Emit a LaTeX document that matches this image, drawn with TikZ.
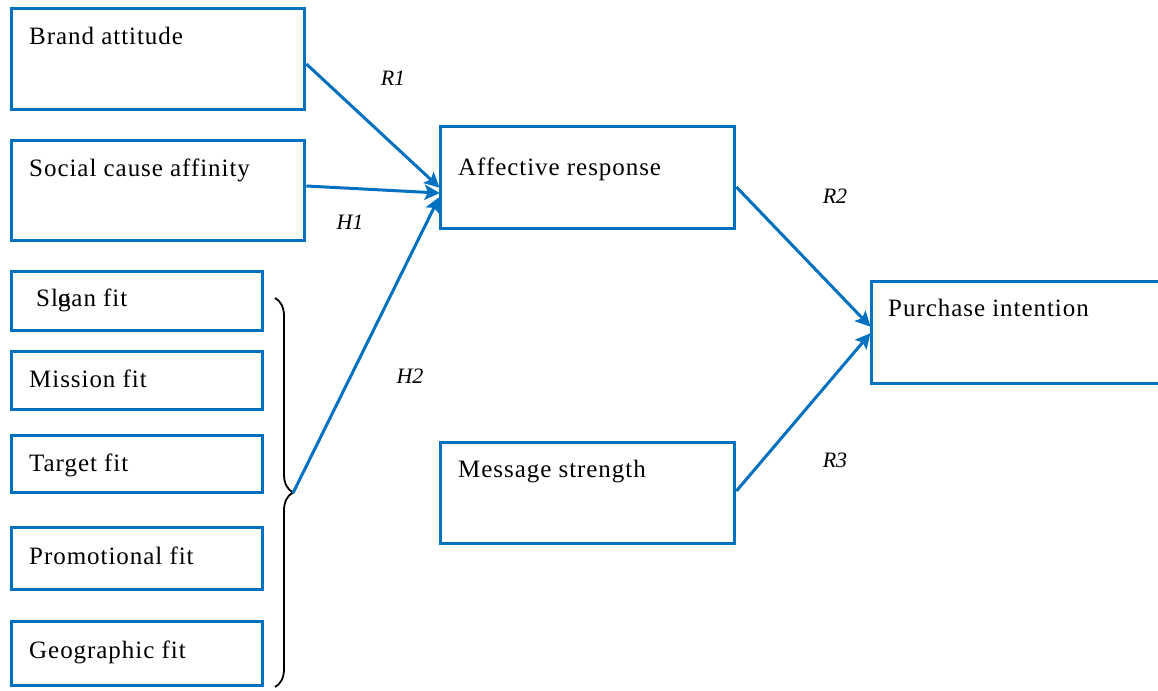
\documentclass[tikz,border=0pt]{standalone}
\usepackage{fontspec}
\setmainfont{Liberation Serif}
\newfontfamily\spacedfont[LetterSpace=3.8]{Liberation Serif}
\usetikzlibrary{arrows.meta,decorations.pathreplacing}
\definecolor{boxblue}{RGB}{0,112,192}
\tikzset{
  box/.style={draw=boxblue, line width=3.6pt, anchor=north west, inner sep=0pt},
  lbl/.style={anchor=base west, inner sep=0pt, font=\spacedfont\fontsize{25}{30}\selectfont},
  rlab/.style={inner sep=0pt, font=\fontsize{22}{26}\selectfont\itshape},
  conn/.style={draw=boxblue, line width=3pt, -{Stealth[length=15pt,width=15pt,inset=3pt]}, shorten >=-1pt}
}
\begin{document}
\begin{tikzpicture}[x=1pt,y=-1pt]
\useasboundingbox (0,0) rectangle (1158,690);
% boxes
\node[box, minimum width=293, minimum height=101] (ba) at (9.8,6.8) {};
\node[box, minimum width=293, minimum height=100] (sc) at (9.8,138.8) {};
\node[box, minimum width=251, minimum height=59] (sl) at (9.8,269.8) {};
\node[box, minimum width=251, minimum height=58] (mi) at (9.8,349.8) {};
\node[box, minimum width=251, minimum height=57] (ta) at (9.8,433.8) {};
\node[box, minimum width=251, minimum height=62] (pr) at (9.8,525.8) {};
\node[box, minimum width=251, minimum height=64] (ge) at (9.8,619.8) {};
\node[box, minimum width=294, minimum height=102] (af) at (438.8,124.8) {};
\node[box, minimum width=300, minimum height=102] (pi) at (869.8,279.8) {};
\node[box, minimum width=294, minimum height=101] (ms) at (438.8,440.8) {};
% texts
\node[lbl] (bat) at (29,45) {Brand attitude};
\node[lbl] (sct) at (29,176) {Social cause affinity};
\node[lbl] (slt) at (36,306) {Sl\rlap{o}gan fit};
\node[lbl] (mit) at (29,387) {Mission fit};
\node[lbl] (tat) at (29,471) {Target fit};
\node[lbl] (prt) at (29,564) {Promotional fit};
\node[lbl] (get) at (29,658) {Geographic fit};
\node[lbl] (aft) at (458,175) {Affective response};
\node[lbl] (pit) at (888,316) {Purchase intention};
\node[lbl] (mst) at (458,477) {Message strength};
% brace
\draw[line width=1.8pt, decorate, decoration={brace, amplitude=18pt}] (275,298) -- (275,687);
\coordinate (bt) at (293,493);
% connectors
\draw[conn] (ba.east |- 0,64) -- (af.west |- 0,187);
\draw[conn] (sc.east |- 0,186) -- (af.west |- 0,193);
\draw[conn] (bt) -- (af.west |- 0,198);
\draw[conn] (af.east |- 0,187) -- (pi.west |- 0,326);
\draw[conn] (ms.east |- 0,491) -- (pi.west |- 0,334);
% labels
\node[rlab] (r1) at (393,78) {R1};
\node[rlab] (h1) at (350,222) {H1};
\node[rlab] (h2) at (410,376) {H2};
\node[rlab] (r2) at (835,196) {R2};
\node[rlab] (r3) at (835,460) {R3};
\end{tikzpicture}
\end{document}
